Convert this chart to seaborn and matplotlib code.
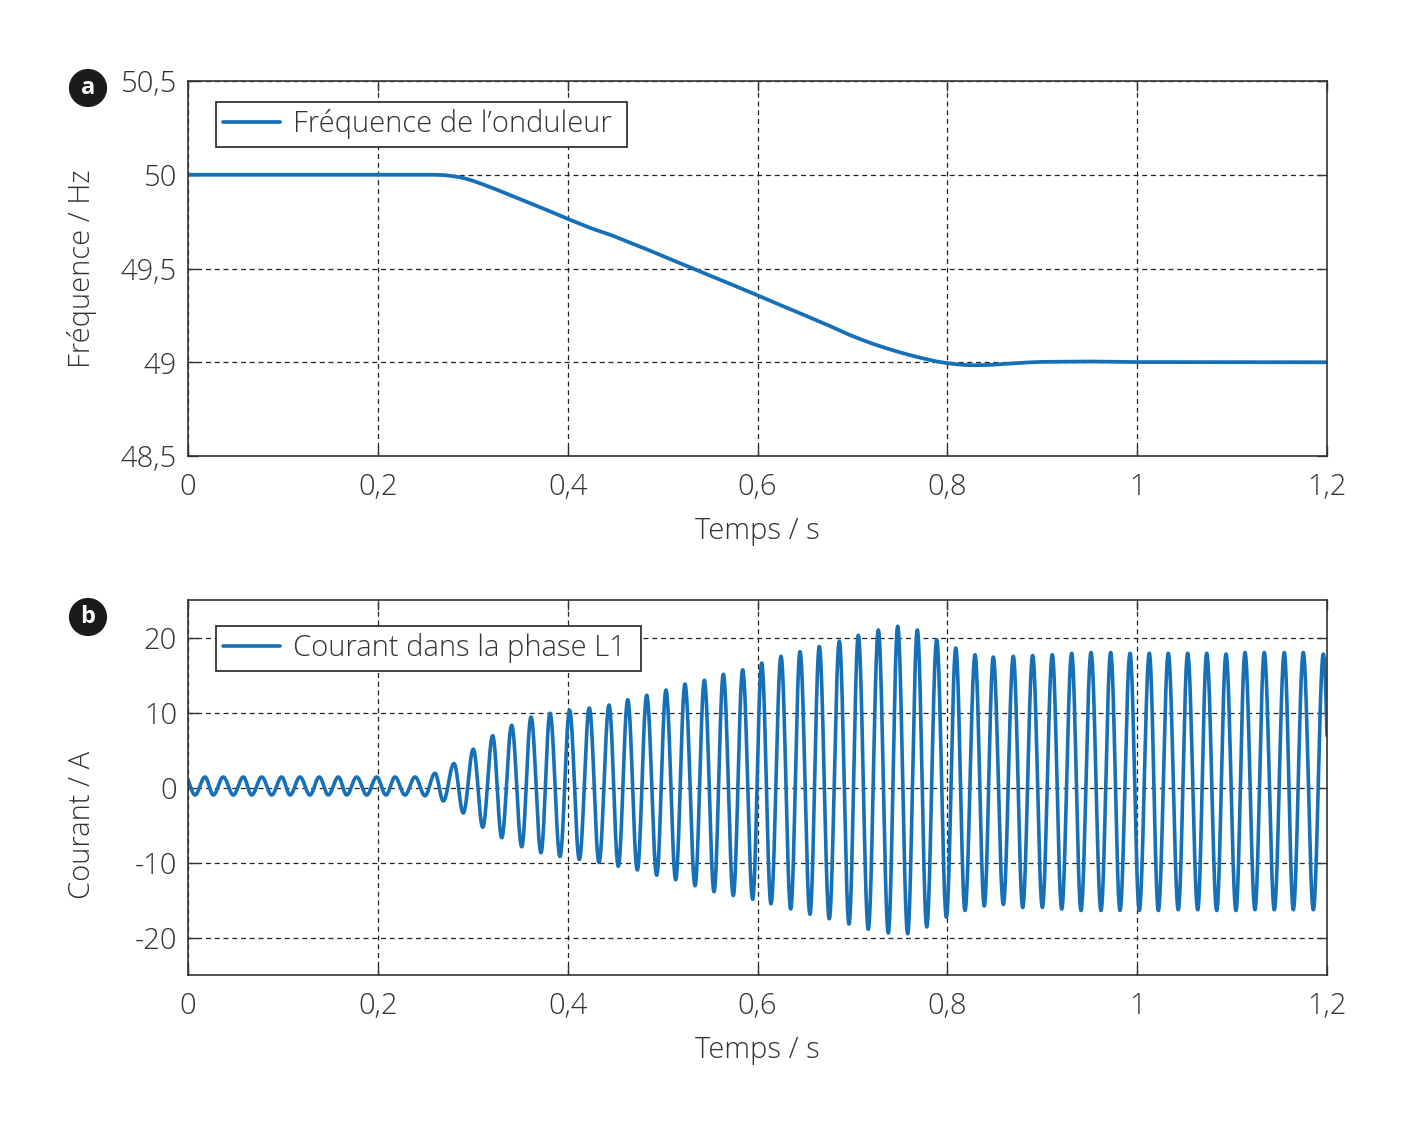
import numpy as np
import pandas as pd
import matplotlib
matplotlib.use("Agg")
import matplotlib.pyplot as plt
import seaborn as sns

# Frequency of the inverter (panel a)
freq_t = [0, 0.25, 0.26, 0.27, 0.28, 0.29, 0.30, 0.31, 0.325, 0.342, 0.36, 0.378,
          0.40, 0.424, 0.448, 0.466, 0.483, 0.50, 0.518, 0.532, 0.55, 0.575, 0.60,
          0.625, 0.65, 0.675, 0.697, 0.71, 0.72, 0.73, 0.74, 0.75, 0.76, 0.77, 0.78,
          0.79, 0.80, 0.81, 0.82, 0.83, 0.845, 0.866, 0.885, 0.90, 0.95, 1.0, 1.2]
freq_hz = [50, 50, 50.0, 49.998, 49.992, 49.983, 49.968, 49.950, 49.921, 49.886, 49.849,
           49.812, 49.765, 49.716, 49.674, 49.637, 49.603, 49.567, 49.529, 49.500, 49.462,
           49.410, 49.357, 49.303, 49.250, 49.196, 49.146, 49.120, 49.101, 49.084, 49.068,
           49.053, 49.039, 49.026, 49.014, 49.003, 48.995, 48.989, 48.985, 48.984, 48.986,
           48.993, 48.999, 49.002, 49.004, 49.001, 49.0]

# Current in phase L1 (panel b): times and values of the peaks and troughs
peak_t = [0.0179, 0.0372, 0.0583, 0.0777, 0.0987, 0.1180, 0.1383, 0.1584, 0.1777, 0.1988,
          0.2181, 0.2392, 0.2602, 0.2802, 0.3006, 0.3210, 0.3410, 0.3614, 0.3814, 0.4020,
          0.4228, 0.4436, 0.4633, 0.4833, 0.5036, 0.5236, 0.5440, 0.5640, 0.5844, 0.6044,
          0.6248, 0.6448, 0.6651, 0.6862, 0.7062, 0.7273, 0.7477, 0.7684, 0.7888, 0.8089,
          0.8292, 0.8484, 0.8695, 0.8899, 0.9106, 0.9310, 0.9514, 0.9721, 0.9925, 1.0128,
          1.0328, 1.0532, 1.0733, 1.0936, 1.1136, 1.1339, 1.1550, 1.1750, 1.1961]
peak_a = [1.4, 1.4, 1.4, 1.4, 1.4, 1.4, 1.4, 1.4, 1.4, 1.4,
          1.4, 1.4, 1.9, 3.2, 5.1, 6.9, 8.3, 9.4, 9.9, 10.3,
          10.6, 11.0, 11.7, 12.3, 13.0, 13.8, 14.3, 15.1, 15.7, 16.6,
          17.5, 18.1, 18.8, 19.5, 20.3, 21.0, 21.5, 21.0, 19.7, 18.6,
          17.7, 17.4, 17.5, 17.6, 17.7, 17.9, 18.0, 18.0, 17.9, 17.9,
          17.9, 17.9, 17.9, 17.8, 18.0, 18.0, 18.0, 18.0, 17.8]
trough_t = [0.0074, 0.0267, 0.0477, 0.0671, 0.0882, 0.1075, 0.1285, 0.1478, 0.1672, 0.1883,
            0.2086, 0.2286, 0.2497, 0.2690, 0.2900, 0.3105, 0.3305, 0.3516, 0.3719, 0.3919,
            0.4123, 0.4330, 0.4533, 0.4734, 0.4938, 0.5138, 0.5342, 0.5542, 0.5745, 0.5949,
            0.6142, 0.6350, 0.6553, 0.6756, 0.6964, 0.7167, 0.7378, 0.7582, 0.7783, 0.7990,
            0.8186, 0.8389, 0.8590, 0.8794, 0.9001, 0.9205, 0.9408, 0.9619, 0.9819, 1.0022,
            1.0223, 1.0433, 1.0638, 1.0838, 1.1041, 1.1241, 1.1445, 1.1645, 1.1856]
trough_a = [-1.0, -1.0, -1.0, -1.0, -1.0, -1.0, -1.0, -1.0, -1.0, -1.0,
            -1.0, -1.0, -1.1, -1.8, -3.4, -5.3, -6.7, -7.9, -8.7, -9.2,
            -9.6, -10.0, -10.5, -11.0, -11.7, -12.3, -13.1, -13.9, -14.4, -14.9,
            -15.5, -16.2, -16.9, -17.5, -18.2, -18.9, -19.4, -19.5, -18.6, -17.3,
            -16.4, -15.8, -15.6, -16.0, -16.0, -16.2, -16.4, -16.4, -16.4, -16.4,
            -16.4, -16.3, -16.3, -16.4, -16.4, -16.3, -16.3, -16.3, -16.3]
# extremes just outside the visible window
start_t, start_a = -0.0026, 1.4
end_t, end_a = 1.2063, -16.3

x_ticks = [0, 0.2, 0.4, 0.6, 0.8, 1.0, 1.2]
x_ticklabels = ["0", "0,2", "0,4", "0,6", "0,8", "1", "1,2"]
f_ticks = [48.5, 49, 49.5, 50, 50.5]
f_ticklabels = ["48,5", "49", "49,5", "50", "50,5"]
i_ticks = [-20, -10, 0, 10, 20]
i_ticklabels = ["-20", "-10", "0", "10", "20"]

# build current waveform: half-cosine between successive extremes
ext_t = np.array([start_t] + [v for p in zip(trough_t, peak_t) for v in p] + [end_t])
ext_a = np.array([start_a] + [v for p in zip(trough_a, peak_a) for v in p] + [end_a])
t = np.linspace(0, 1.2, 9000)
k = np.clip(np.searchsorted(ext_t, t, side="right") - 1, 0, len(ext_t) - 2)
frac = (t - ext_t[k]) / (ext_t[k + 1] - ext_t[k])
cur = ext_a[k] + (ext_a[k + 1] - ext_a[k]) * (1 - np.cos(np.pi * frac)) / 2

df_f = pd.DataFrame({"t": freq_t, "f": freq_hz})
df_i = pd.DataFrame({"t": t, "i": cur})

sns.set_style("ticks")
plt.rcParams["font.family"] = ["Open Sans", "DejaVu Sans"]
plt.rcParams["font.weight"] = "light"
plt.rcParams["axes.labelweight"] = "light"

blue = "#1670b8"
dark = "#333333"
fs = 21
W, H = 1420, 1140

fig = plt.figure(figsize=(W / 100, H / 100), dpi=100)
ax1 = fig.add_axes([188 / W, 1 - 456 / H, 1139 / W, 375 / H])
ax2 = fig.add_axes([188 / W, 1 - 975 / H, 1139 / W, 375 / H])

sns.lineplot(data=df_f, x="t", y="f", ax=ax1, color=blue, linewidth=2.7,
             label="Fréquence de l’onduleur ", sort=False, estimator=None)
sns.lineplot(data=df_i, x="t", y="i", ax=ax2, color=blue, linewidth=2.6,
             label="Courant dans la phase L1 ", sort=False, estimator=None)

for ax, yt, ytl, ylim, leg_top in [(ax1, f_ticks, f_ticklabels, (48.5, 50.5), 21),
                                   (ax2, i_ticks, i_ticklabels, (-25, 25), 26)]:
    ax.set_xlim(0, 1.2)
    ax.set_ylim(*ylim)
    ax.set_xticks(x_ticks)
    ax.set_xticklabels(x_ticklabels)
    ax.set_yticks(yt)
    ax.set_yticklabels(ytl)
    ax.grid(True, linestyle=(0, (4, 3)), color="#222222", linewidth=0.9)
    ax.tick_params(direction="in", top=True, right=True, length=7, width=1,
                   color=dark, labelsize=fs, labelcolor=dark)
    ax.tick_params(axis="x", pad=12)
    ax.tick_params(axis="y", pad=8)
    for s in ax.spines.values():
        s.set_color(dark)
        s.set_linewidth(1.2)
    ax.set_xlabel("Temps / s", fontsize=fs, color=dark, labelpad=10,
                  fontweight="light")
    ax.set_ylabel("")
    leg = ax.legend(loc="upper left", bbox_to_anchor=(28 / 1139, 1 - leg_top / 375),
                    borderaxespad=0, fancybox=False, framealpha=1, fontsize=fs,
                    edgecolor="#222222", handlelength=1.95, borderpad=0.25,
                    handletextpad=0.45)
    leg.get_frame().set_linewidth(1.2)
    for txt in leg.get_texts():
        txt.set_color(dark)
        txt.set_fontweight("light")

fig.text(82 / W, 1 - 269 / H, "Fréquence / Hz", rotation=90, ha="center", va="center",
         fontsize=fs, color=dark, fontweight="light")
fig.text(82 / W, 1 - 825 / H, "Courant / A", rotation=90, ha="center", va="center",
         fontsize=fs, color=dark, fontweight="light")

for letter, y in [("a", 88), ("b", 617)]:
    fig.text(88 / W, 1 - y / H, letter, ha="center", va="center", fontsize=17,
             fontweight="bold", color="white",
             bbox=dict(boxstyle="circle,pad=0.3", fc="#1a1a1a", ec="none"))

fig.savefig("out.png", dpi=100)
